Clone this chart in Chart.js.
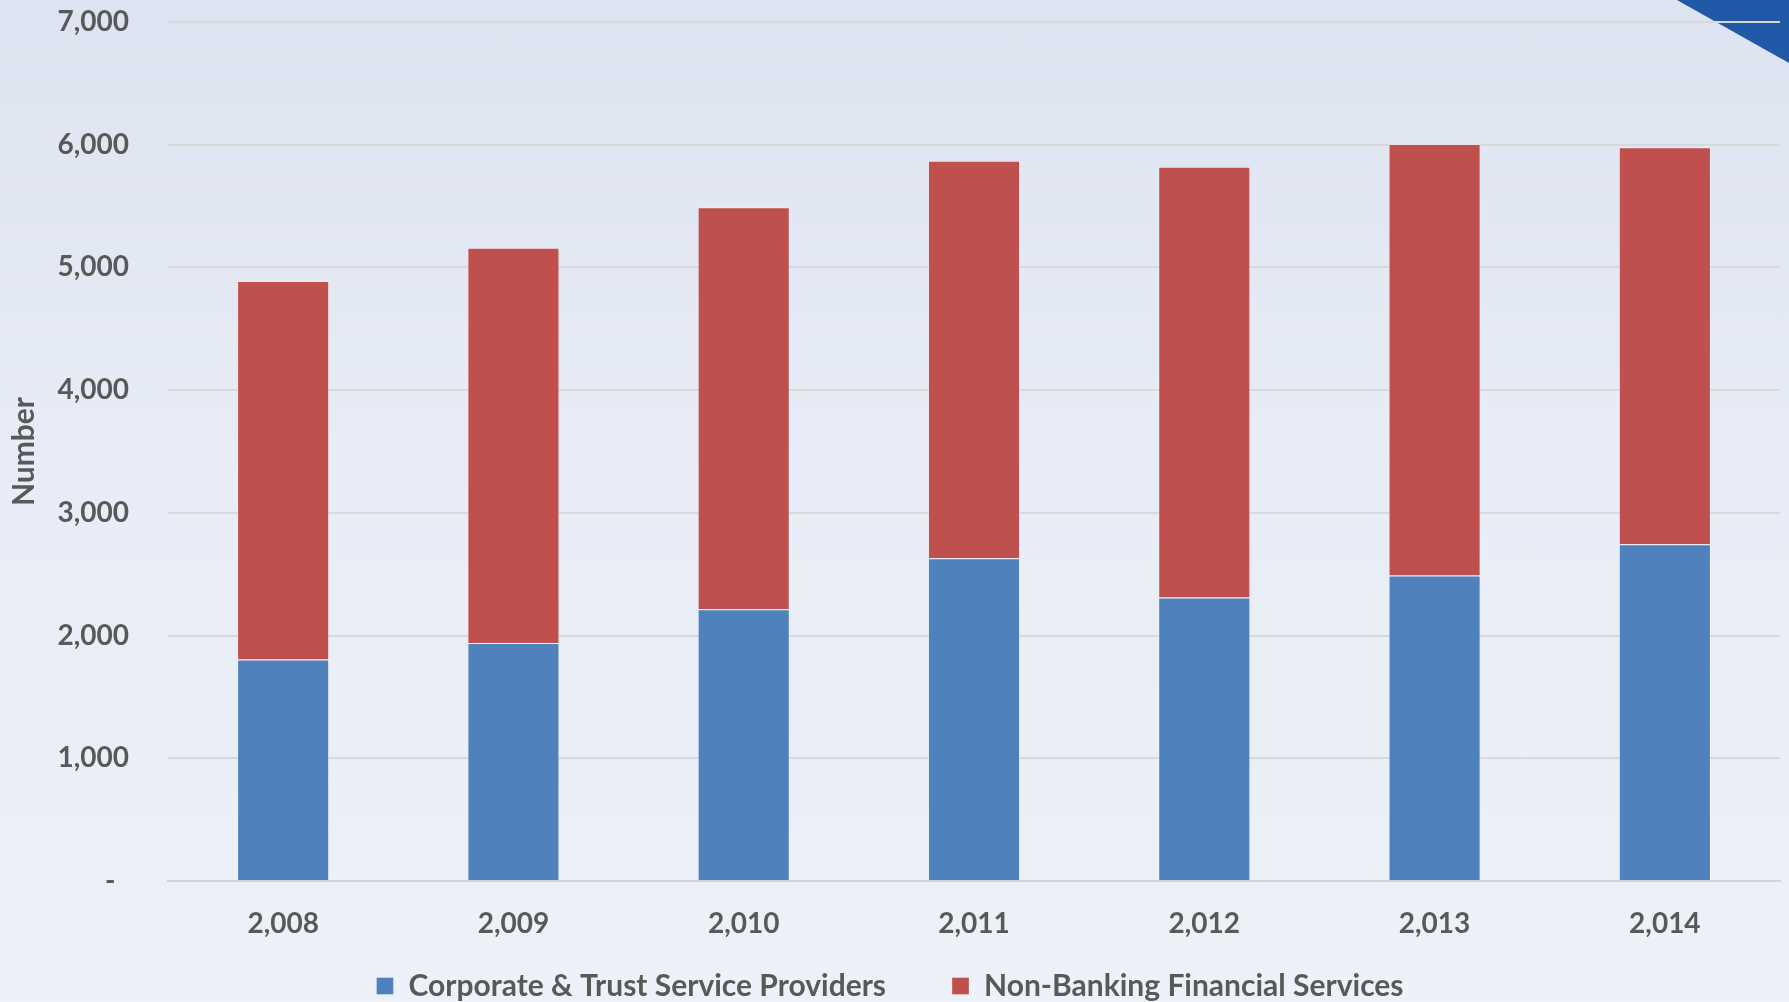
<!DOCTYPE html>
<html>
<head>
<meta charset="utf-8">
<script src="https://cdn.jsdelivr.net/npm/chart.js@4.4.1/dist/chart.umd.min.js"></script>
<style>
  html, body { margin: 0; padding: 0; overflow: hidden; }
  body {
    width: 1789px; height: 1002px; position: relative;
    background: linear-gradient(to bottom, #dde3f0 0%, #e7ecf6 45%, #edf1f8 100%);
  }
  #corner {
    position: absolute; top: 0; right: 0; width: 112px; height: 63px;
    background: #2159a6;
    clip-path: polygon(0 0, 100% 0, 100% 100%);
  }
  #chart { position: absolute; left: 0; top: 0; }
</style>
</head>
<body>
<div id="corner"></div>
<canvas id="chart" width="1789" height="1011"></canvas>
<script>
// data
const years = ["2,008", "2,009", "2,010", "2,011", "2,012", "2,013", "2,014"];
const trustProviders = [1805, 1940, 2215, 2630, 2310, 2490, 2745];
const nonBanking = [3085, 3220, 3275, 3240, 3510, 3515, 3235];
const yTicks = [0, 1000, 2000, 3000, 4000, 5000, 6000, 7000];

const textColor = "#595959";
const font = (size) => ({ family: "Lato, 'Open Sans', sans-serif", size: size, weight: "bold" });

const ctx = document.getElementById("chart").getContext("2d");

new Chart(ctx, {
  type: "bar",
  data: {
    labels: years,
    datasets: [
      {
        label: "Corporate & Trust Service Providers",
        data: trustProviders,
        backgroundColor: "#4f81bd",
        borderColor: "rgba(255,255,255,0.3)",
        borderWidth: 1,
        barPercentage: 0.4,
        categoryPercentage: 1,
      },
      {
        label: "Non-Banking Financial Services",
        data: nonBanking,
        backgroundColor: "#c0504d",
        borderColor: "rgba(255,255,255,0.3)",
        borderWidth: 1,
        barPercentage: 0.4,
        categoryPercentage: 1,
      },
    ],
  },
  options: {
    responsive: false,
    animation: false,
    layout: { padding: { top: 22, right: 9, left: 0, bottom: 0 } },
    plugins: {
      tooltip: { enabled: false },
      legend: {
        position: "bottom",
        labels: {
          color: textColor,
          font: font(30),
          boxWidth: 17,
          boxHeight: 17,
          padding: 66,
        },
      },
    },
    scales: {
      x: {
        stacked: true,
        grid: { display: false },
        border: { display: true, color: "#d4d4d4", width: 2 },
        ticks: { color: textColor, font: font(28), padding: 18 },
        afterFit: (scale) => {
          scale.height = 24;
          // labels hang below the short axis box, so don't clip them to it
          scale._computeLabelArea = () => undefined;
        },
      },
      y: {
        stacked: true,
        min: 0,
        max: 7000,
        afterBuildTicks: (scale) => { scale.ticks = yTicks.map((v) => ({ value: v })); },
        grid: { color: "#d9d9d9", lineWidth: 2, drawTicks: false },
        border: { display: false },
        ticks: {
          color: textColor,
          font: font(28),
          padding: 39,
          callback: (v) => (v === 0 ? "-  " : v.toLocaleString("en-US")),
        },
        title: {
          display: true,
          text: "Number",
          color: textColor,
          font: font(30),
          padding: { top: 6, bottom: 0 },
        },
        afterFit: (scale) => {
          scale.width = 168;
          scale.paddingTop = 0;
          scale.paddingBottom = 0;
        },
      },
    },
  },
});
</script>
</body>
</html>
